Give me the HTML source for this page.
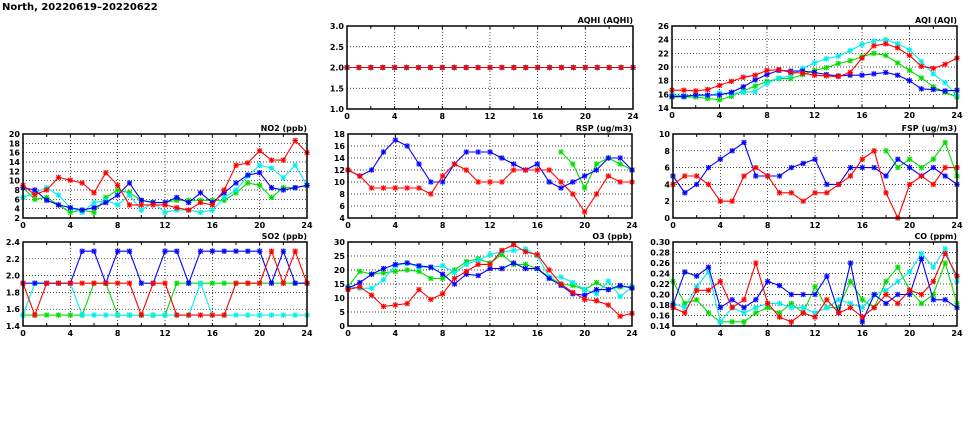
<!DOCTYPE html>
<html><head><meta charset="utf-8"><style>
html,body{margin:0;padding:0;background:#fff;}
svg{display:block;font-family:"DejaVu Sans","Liberation Sans",sans-serif;}
</style></head><body>
<svg id="chart" width="975" height="447" viewBox="0 0 975 447" xmlns="http://www.w3.org/2000/svg">
<text x="2" y="10" font-size="10" font-weight="bold">North, 20220619–20220622</text>
</svg>
<script>
const hours = [0,1,2,3,4,5,6,7,8,9,10,11,12,13,14,15,16,17,18,19,20,21,22,23,24];
const seriesColors = ['#00dd00','#00eeee','#0000ff','#ff0000'];
const seriesNames = ['green','cyan','blue','red'];
const N = null;
const aqhiGreen = [2,2,2,2,2,2,2,2,2,2,2,2,2,2,2,2,2,2,2,2,2,2,2,2,2];
const aqhiCyan = [2,2,2,2,2,2,2,2,2,2,2,2,2,2,2,2,2,2,2,2,2,2,2,2,2];
const aqhiBlue = [2,2,2,2,2,2,2,2,2,2,2,2,2,2,2,2,2,2,2,2,2,2,2,2,2];
const aqhiRed = [2,2,2,2,2,2,2,2,2,2,2,2,2,2,2,2,2,2,2,2,2,2,2,2,2];
const aqiRed = [16.6,16.6,16.5,16.7,17.3,17.9,18.5,18.8,19.5,19.6,19.2,19.1,18.8,18.7,18.6,19.2,21.3,23.1,23.4,22.8,21.7,20.1,19.8,20.4,21.3];
const aqiGreen = [15.6,15.6,15.6,15.4,15.2,15.7,16.5,17.2,17.9,18.3,18.3,18.9,19.5,19.9,20.5,20.9,21.5,22,21.7,20.6,19.5,18.4,17.1,16.3,15.6];
const aqiCyan = [15.9,15.8,15.8,15.8,16.2,16.1,16.3,16.4,17.6,18.4,18.7,19.8,20.6,21.2,21.6,22.4,23.3,23.8,24,23.4,22.5,20.8,19,17.7,15.8];
const aqiBlue = [15.7,15.7,15.9,15.9,15.9,16.3,17.1,18.1,18.9,19.5,19.4,19.4,19.2,18.9,18.7,18.8,18.8,19,19.2,18.8,18,16.8,16.7,16.5,16.6];
const no2Red = [9,7,8,10.7,10.1,9.5,7.4,11.7,9,4.8,4.8,4.8,4.8,4.2,3.7,5.3,4.8,8,13.3,13.8,16.4,14.4,14.4,18.6,16];
const no2Green = [8.5,6,6.4,4.8,3.2,3.7,3.2,6.4,8,7.4,5.8,5.3,5.3,5.8,5.8,5.8,5.8,5.8,7.4,9.5,9,6.4,8.5,8.5,9];
const no2Cyan = [6.4,7.4,8.5,6.9,4.2,3.2,5.3,5.8,4.8,6.9,3.7,5.3,3.2,3.7,3.7,3.2,3.7,6.4,8,11,13.3,12.7,10.6,13.3,9];
const no2Blue = [8.5,8,5.8,4.8,4.2,3.7,4.2,5.3,6.9,9.5,5.8,5.3,5.3,6.4,5.3,7.4,5.3,7.4,9.5,11.2,11.7,8.5,8,8.5,9];
const rspRed = [12,11,9,9,9,9,9,8,11,13,12,10,10,10,12,12,12,12,10,8,5,8,11,10,10];
const rspGreen = [N,N,N,N,N,N,N,N,N,N,N,N,N,N,N,N,N,N,15,13,9,13,14,13,12];
const rspCyan = [N,N,N,N,N,N,N,N,N,N,N,N,N,N,N,N,N,N,N,N,N,N,N,N,N];
const rspBlue = [12,11,12,15,17,16,13,10,10,13,15,15,15,14,13,12,13,10,9,10,11,12,14,14,12];
const fspRed = [4,5,5,4,2,2,5,6,5,3,3,2,3,3,4,5,7,8,3,0,4,5,4,6,6];
const fspGreen = [N,N,N,N,N,N,N,N,N,N,N,N,N,N,N,N,N,N,8,6,7,6,7,9,5];
const fspCyan = [N,N,N,N,N,N,N,N,N,N,N,N,N,N,N,N,N,N,N,N,N,N,N,N,N];
const fspBlue = [5,3,4,6,7,8,9,5,5,5,6,6.5,7,4,4,6,6,6,5,7,6,5,6,5,4];
const so2Red = [1.91,1.53,1.91,1.91,1.91,1.91,1.91,1.91,1.91,1.91,1.53,1.91,1.91,1.53,1.53,1.53,1.53,1.53,1.91,1.91,1.91,2.29,1.91,2.29,1.91];
const so2Green = [1.53,1.53,1.53,1.53,1.53,1.53,1.91,1.91,1.53,1.53,1.53,1.53,1.53,1.91,1.91,1.91,1.91,1.91,1.91,1.91,1.91,1.91,1.91,1.91,1.91];
const so2Cyan = [1.53,1.91,1.91,1.91,1.91,1.53,1.53,1.53,1.53,1.53,1.53,1.53,1.53,1.53,1.53,1.91,1.53,1.53,1.53,1.53,1.53,1.53,1.53,1.53,1.53];
const so2Blue = [1.91,1.91,1.91,1.91,1.91,2.29,2.29,1.91,2.29,2.29,1.91,1.91,2.29,2.29,1.91,2.29,2.29,2.29,2.29,2.29,2.29,1.91,2.29,1.91,1.91];
const o3Red = [13,14,11,7,7.5,8,13,9.5,11.5,17,19.5,22,22,27,29,26.5,25.5,20,15,12,9.5,9,7.5,3.5,4.5];
const o3Green = [14,19.5,18.5,19,19.5,20,19.5,17,17,20,23,24,22.5,25.5,22,22,20.5,17.5,15,14.5,13,15.5,13,14,14];
const o3Cyan = [14,13.5,13.5,16.5,21.5,22.5,21,21,21.5,19,22,23.5,25.5,26.5,27,27.5,25,17.5,17.5,15.5,13,11.5,16,10.5,14];
const o3Blue = [13.5,15.5,18.5,20.5,22,22.5,21.5,21,18.5,15,18.5,18,20.5,20.5,22.5,20.5,20.5,17,14.5,11.5,11,13,13,14.5,13.5];
const coRed = [0.175,0.165,0.208,0.208,0.225,0.175,0.19,0.26,0.183,0.157,0.148,0.165,0.157,0.19,0.165,0.175,0.157,0.175,0.2,0.183,0.208,0.2,0.225,0.278,0.235];
const coGreen = [0.225,0.183,0.19,0.165,0.148,0.148,0.148,0.165,0.175,0.165,0.183,0.165,0.215,0.175,0.175,0.225,0.19,0.175,0.225,0.252,0.208,0.183,0.2,0.26,0.183];
const coCyan = [0.183,0.175,0.215,0.243,0.148,0.175,0.165,0.175,0.183,0.183,0.175,0.175,0.165,0.175,0.19,0.183,0.175,0.2,0.208,0.225,0.243,0.278,0.252,0.287,0.225];
const coBlue = [0.18,0.243,0.235,0.252,0.175,0.19,0.175,0.19,0.225,0.217,0.2,0.2,0.2,0.235,0.165,0.26,0.148,0.2,0.183,0.2,0.2,0.268,0.19,0.19,0.175];
const xTicks = [0,4,8,12,16,20,24];
const aqhiTicks = [1.0,1.5,2.0,2.5,3.0];
const aqiTicks = [14,16,18,20,22,24,26];
const no2Ticks = [2,4,6,8,10,12,14,16,18,20];
const rspTicks = [4,6,8,10,12,14,16,18];
const fspTicks = [0,2,4,6,8,10];
const so2Ticks = [1.4,1.6,1.8,2.0,2.2,2.4];
const o3Ticks = [0,5,10,15,20,25,30];
const coTicks = [0.14,0.16,0.18,0.20,0.22,0.24,0.26,0.28,0.30];

const NS='http://www.w3.org/2000/svg';
const svg=document.getElementById('chart');
function mk(tag,attrs,parent){const e=document.createElementNS(NS,tag);for(const k in attrs)e.setAttribute(k,attrs[k]);(parent||svg).appendChild(e);return e;}

const panels=[
 {key:'aqhi',title:'AQHI (AQHI)',x:347,y:26,w:286,h:83,ticks:aqhiTicks,dec:1,series:[aqhiGreen,aqhiCyan,aqhiBlue,aqhiRed]},
 {key:'aqi',title:'AQI (AQI)',x:672,y:26,w:285,h:82,ticks:aqiTicks,dec:0,series:[aqiGreen,aqiCyan,aqiBlue,aqiRed]},
 {key:'no2',title:'NO2 (ppb)',x:23,y:134,w:284,h:84,ticks:no2Ticks,dec:0,series:[no2Green,no2Cyan,no2Blue,no2Red]},
 {key:'rsp',title:'RSP (ug/m3)',x:348,y:134,w:284,h:84,ticks:rspTicks,dec:0,series:[rspGreen,rspCyan,rspBlue,rspRed]},
 {key:'fsp',title:'FSP (ug/m3)',x:673,y:134,w:284,h:84,ticks:fspTicks,dec:0,series:[fspGreen,fspCyan,fspBlue,fspRed]},
 {key:'so2',title:'SO2 (ppb)',x:23,y:242,w:284,h:84,ticks:so2Ticks,dec:1,series:[so2Green,so2Cyan,so2Blue,so2Red]},
 {key:'o3',title:'O3 (ppb)',x:348,y:242,w:284,h:84,ticks:o3Ticks,dec:0,series:[o3Green,o3Cyan,o3Blue,o3Red]},
 {key:'co',title:'CO (ppm)',x:673,y:242,w:284,h:84,ticks:coTicks,dec:2,series:[coGreen,coCyan,coBlue,coRed]}
];

panels.forEach(p=>{
 const g=mk('g',{});
 
 
 const ymin=p.ticks[0], ymax=p.ticks[p.ticks.length-1];
 const X=v=>p.x+v/24*p.w;
 const Y=v=>p.y+p.h-(v-ymin)/(ymax-ymin)*p.h;
 p.ticks.forEach(t=>{
  if(t!==ymin&&t!==ymax){const l=mk('line',{x1:p.x,x2:p.x+p.w,y1:Y(t),y2:Y(t),stroke:'#000','stroke-width':0.7,'stroke-dasharray':'1,2'},g);
  }
  const tx=mk('text',{x:p.x-3,y:Y(t)+3,'font-size':8,'font-weight':'bold','text-anchor':'end'},g);
  
  tx.textContent=t.toFixed(p.dec);
 });
 xTicks.forEach(t=>{
  if(t!==0&&t!==24){const l=mk('line',{x1:X(t),x2:X(t),y1:p.y,y2:p.y+p.h,stroke:'#000','stroke-width':0.7,'stroke-dasharray':'1,2'},g);
  }
  const tx=mk('text',{x:X(t),y:p.y+p.h+10,'font-size':8,'font-weight':'bold','text-anchor':'middle'},g);
  
  tx.textContent=t;
 });
 for(let h=2;h<24;h+=2){mk('line',{x1:X(h),x2:X(h),y1:p.y+p.h,y2:p.y+p.h-3,stroke:'#000','stroke-width':1},g);mk('line',{x1:X(h),x2:X(h),y1:p.y,y2:p.y+3,stroke:'#000','stroke-width':1},g);}
 p.series.forEach((arr,si)=>{
  const c=seriesColors[si];
  let d='',pen=false;
  arr.forEach((v,i)=>{if(v===null){pen=false;return;}d+=(pen?'L':'M')+X(hours[i]).toFixed(1)+' '+Y(v).toFixed(1)+' ';pen=true;});
  if(d){const pl=mk('path',{d:d,fill:'none',stroke:c,'stroke-width':1.1},g);
  }
  arr.forEach((v,i)=>{if(v===null)return;const cx=X(hours[i]),cy=Y(v);
   const m=mk('g',{},g);
   
   
   mk('rect',{x:cx-2.5,y:cy-2.5,width:5,height:5,fill:c,opacity:0.25},m);
   mk('path',{d:`M${cx-2.2} ${cy-2.2}L${cx+2.2} ${cy+2.2}M${cx-2.2} ${cy+2.2}L${cx+2.2} ${cy-2.2}M${cx} ${cy-2.7}L${cx} ${cy+2.7}M${cx-2.7} ${cy}L${cx+2.7} ${cy}`,stroke:c,'stroke-width':1},m);
  });
 });
 const fr=mk('rect',{x:p.x,y:p.y,width:p.w,height:p.h,fill:'none',stroke:'#000','stroke-width':1.5},g);
 
 const tt=mk('text',{x:p.x+p.w,y:p.y-3,'font-size':8,'font-weight':'bold','text-anchor':'end'},g);
 
 tt.textContent=p.title;
});
</script>
</body></html>
